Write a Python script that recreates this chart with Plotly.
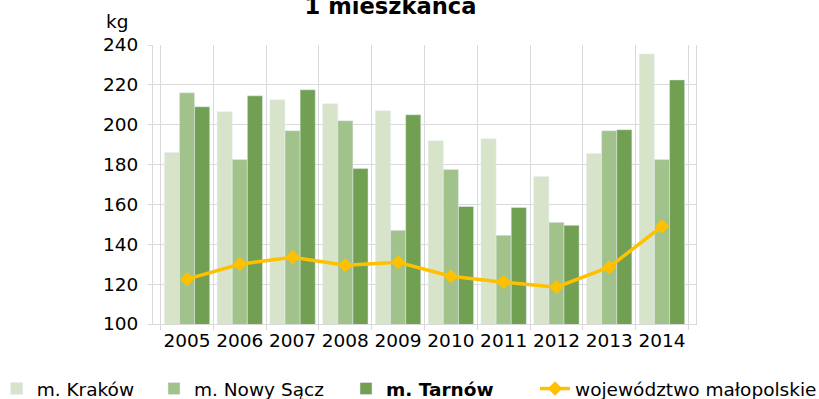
import plotly.graph_objects as go

# Annual amount per inhabitant (kg)
years = ["2005", "2006", "2007", "2008", "2009", "2010", "2011", "2012", "2013", "2014"]
krakow = [186, 206.5, 212.5, 210.5, 207, 192, 193, 174, 185.5, 235.5]
nowy_sacz = [216, 182.5, 197, 202, 147, 177.5, 144.5, 151, 197, 182.5]
tarnow = [209, 214.5, 217.5, 178, 205, 159, 158.5, 149.5, 197.5, 222.5]
malopolskie = [122.5, 130, 133.5, 129.5, 131, 124, 121, 118.5, 128.5, 149]

y_ticks = [100, 120, 140, 160, 180, 200, 220, 240]

FONT = "DejaVu Sans"
GRID = "#D9D9D9"

W, H = 819, 399
L, R, T, B = 153, 123, 45, 75
plot_w = W - L - R
plot_h = H - T - B


def px_x(px):
    return (px - L) / plot_w


def px_y(py):
    return (H - B - py) / plot_h


fig = go.Figure()
fig.add_trace(go.Bar(x=years, y=krakow, name="m. Kraków",
                     marker=dict(color="#D7E4C9"), legend="legend"))
fig.add_trace(go.Bar(x=years, y=nowy_sacz, name="m. Nowy Sącz",
                     marker=dict(color="#A2C28B"), legend="legend2"))
fig.add_trace(go.Bar(x=years, y=tarnow, name="<b>m. Tarnów</b>",
                     marker=dict(color="#71A052"), legend="legend3"))
fig.add_trace(go.Scatter(x=years, y=malopolskie, name="województwo małopolskie",
                         mode="lines+markers",
                         line=dict(color="#FFC000", width=3.5),
                         marker=dict(symbol="diamond", size=11, color="#FFC000"),
                         legend="legend4"))

legend_common = dict(orientation="h", yanchor="middle", y=px_y(389), xanchor="left",
                     font=dict(family=FONT, size=18.5, color="#000000"),
                     bgcolor="rgba(0,0,0,0)", borderwidth=0)

fig.update_layout(
    width=W, height=H, autosize=False,
    margin=dict(l=L, r=R, t=T, b=B, autoexpand=False),
    paper_bgcolor="white", plot_bgcolor="white",
    showlegend=True,
    barmode="group", bargap=0.14, bargroupgap=0,
    font=dict(family=FONT, size=18.5, color="#000000"),
    title=dict(text="<b>1 mieszkańca</b>", xref="container", yref="container",
               x=390.5 / W, xanchor="center", y=1 - 6.5 / H, yanchor="middle",
               font=dict(family=FONT, size=22.6, color="#000000")),
    xaxis=dict(type="category", tickson="boundaries", showgrid=True, gridcolor=GRID,
               gridwidth=1, showline=True, linecolor=GRID, linewidth=1,
               ticks="outside", ticklen=5, tickcolor=GRID, tickangle=0,
               tickfont=dict(family=FONT, size=18.5, color="#000000")),
    yaxis=dict(range=[100, 240], tickvals=y_ticks, showgrid=True, gridcolor=GRID,
               gridwidth=1, showline=True, linecolor=GRID, linewidth=1, mirror=True,
               ticks="outside", ticklen=4, tickcolor=GRID, ticklabelstandoff=6,
               zeroline=False,
               tickfont=dict(family=FONT, size=18.5, color="#000000")),
    legend=dict(legend_common, x=px_x(36.7 - 40)),
    legend2=dict(legend_common, x=px_x(194 - 40)),
    legend3=dict(legend_common, x=px_x(386 - 40)),
    legend4=dict(legend_common, x=px_x(575 - 40)),
    annotations=[dict(text="kg", xref="paper", yref="paper", x=px_x(104), y=px_y(21.5),
                      xanchor="left", yanchor="middle", showarrow=False,
                      font=dict(family=FONT, size=18.5, color="#000000"))],
)

fig.write_html("out.html")
